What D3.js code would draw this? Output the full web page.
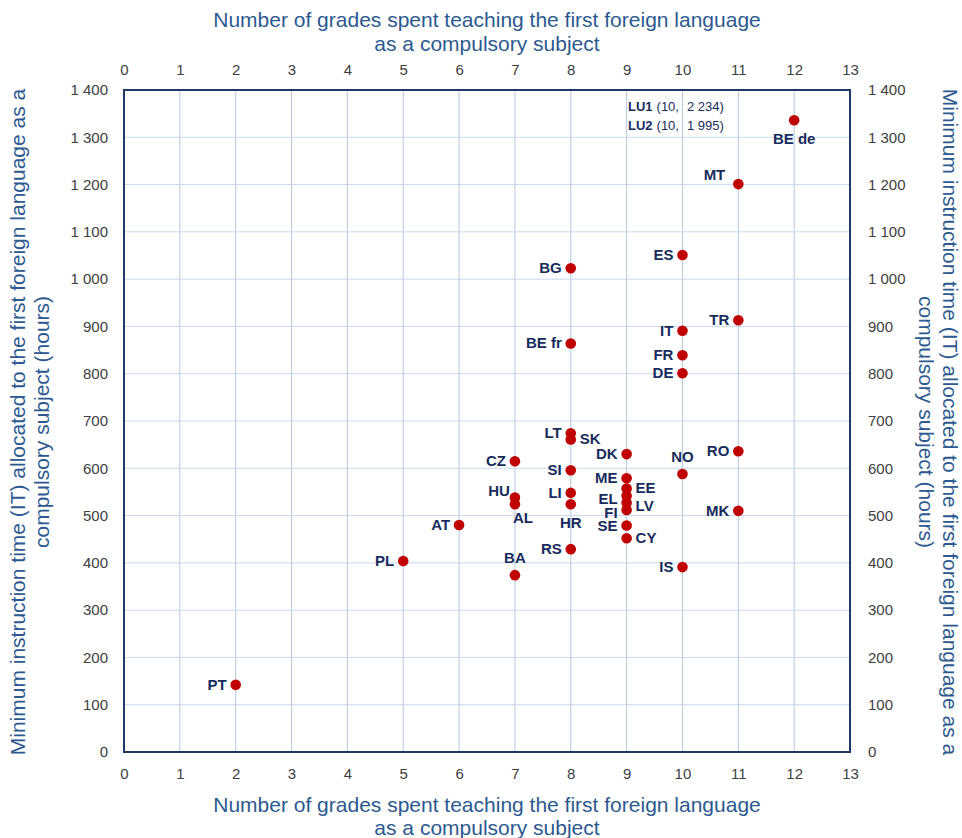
<!DOCTYPE html>
<html><head><meta charset="utf-8">
<script src="https://cdn.jsdelivr.net/npm/d3@7"></script>
<style>
html,body{margin:0;padding:0;background:#fff;}
svg{display:block;font-family:"Liberation Sans",Arial,sans-serif;}
</style></head>
<body>
<svg id="chart" width="962" height="838"></svg>
<script>
// ---- data ----
const codes  = ["PT","PL","AT","BA","CZ","HU","AL","LT","SK","SI","LI","HR","RS","BG","BE fr","DK","ME","EE","EL","LV","FI","SE","CY","NO","IS","ES","IT","FR","DE","MT","TR","RO","MK","BE de"];
const grades = [2,5,6,7,7,7,7,8,8,8,8,8,8,8,8,9,9,9,9,9,9,9,9,10,10,10,10,10,10,11,11,11,11,12];
const hours  = [142,404,480,374,615,538,524,674,661,596,548,524,429,1023,864,630,579,557,542,527,512,479,452,588,391,1051,891,839,801,1201,913,636,510,1336];
const xTicks = [0,1,2,3,4,5,6,7,8,9,10,11,12,13];
const yTicks = [0,100,200,300,400,500,600,700,800,900,1000,1100,1200,1300,1400];
const offChart = [["LU1","(10,","2 234)"],["LU2","(10,","1 995)"]];
const xTitle = ["Number of grades spent teaching the first foreign language","as a compulsory subject"];
const yTitleL = ["Minimum instruction time (IT) allocated to the first foreign language as a","compulsory subject (hours)"];
const yTitleR = ["Minimum instruction time (IT) allocated to the first foreign language as a","compulsory subject (hours)"];
// label placement per point (left default)
const placement = {BA:"above",HU:"aboveleft",AL:"belowright",SK:"right",HR:"below",EE:"right",LV:"right",CY:"right",NO:"above",MT:"aboveleft","BE de":"below"};

// ---- chart ----
const svg = d3.select("#chart");
const x = d3.scaleLinear().domain([0,13]).range([124,850]);
const y = d3.scaleLinear().domain([0,1400]).range([752,90]);
const gridCol = "#b3c7de", frameCol = "#1f3864", tickCol = "#404040", titleCol = "#2c5a8f", labCol = "#172c5c", dotCol = "#c00000";

// grid
svg.append("g").selectAll("line").data(xTicks.slice(1,-1)).join("line")
  .attr("x1",d=>x(d)).attr("x2",d=>x(d)).attr("y1",y(0)).attr("y2",y(1400))
  .attr("stroke",gridCol).attr("stroke-width",1);
svg.append("g").selectAll("line").data(yTicks.slice(1,-1)).join("line")
  .attr("y1",d=>y(d)).attr("y2",d=>y(d)).attr("x1",x(0)).attr("x2",x(13))
  .attr("stroke","#c8d9ee").attr("stroke-width",1);

// axes (labels only)
function styleAxis(g){
  g.select(".domain").remove();
  g.selectAll(".tick line").remove();
  g.selectAll("text").attr("fill",tickCol).style("font-size","15px").style("font-family","'Liberation Sans',Arial,sans-serif");
}
const fmt = d=> d>=1000 ? d3.format(",")(d).replace(","," ") : String(d);
svg.append("g").attr("transform","translate(0,"+y(0)+")")
  .call(d3.axisBottom(x).tickValues(xTicks).tickSize(0).tickPadding(16)).call(styleAxis);
svg.append("g").attr("transform","translate(0,"+y(1400)+")")
  .call(d3.axisTop(x).tickValues(xTicks).tickSize(0).tickPadding(15)).call(styleAxis);
svg.append("g").attr("transform","translate("+x(0)+",0)")
  .call(d3.axisLeft(y).tickValues(yTicks).tickFormat(fmt).tickSize(0).tickPadding(16)).call(styleAxis);
svg.append("g").attr("transform","translate("+x(13)+",0)")
  .call(d3.axisRight(y).tickValues(yTicks).tickFormat(fmt).tickSize(0).tickPadding(18)).call(styleAxis);

// frame
svg.append("rect").attr("x",x(0)).attr("y",y(1400)).attr("width",x(13)-x(0)).attr("height",y(0)-y(1400))
  .attr("fill","none").attr("stroke",frameCol).attr("stroke-width",2);

// titles
const tStyle = s=>s.attr("fill",titleCol).style("font-size","21px").attr("text-anchor","middle");
svg.append("text").call(tStyle).attr("x",487).attr("y",27)
  .selectAll("tspan").data(xTitle).join("tspan").attr("x",487).attr("dy",(d,i)=>i?24:0).text(d=>d);
svg.append("text").call(tStyle).attr("x",487).attr("y",812)
  .selectAll("tspan").data(xTitle).join("tspan").attr("x",487).attr("dy",(d,i)=>i?23:0).text(d=>d);
svg.append("text").call(tStyle).attr("transform","translate(25,422) rotate(-90)")
  .selectAll("tspan").data(yTitleL).join("tspan").attr("x",0).attr("dy",(d,i)=>i?24:0).text(d=>d);
svg.append("text").call(tStyle).attr("transform","translate(943,422) rotate(90)")
  .selectAll("tspan").data(yTitleR).join("tspan").attr("x",0).attr("dy",(d,i)=>i?24:0).text(d=>d);

// points
const pts = codes.map((c,i)=>({c, g:grades[i], h:hours[i]}));
svg.append("g").selectAll("circle").data(pts).join("circle")
  .attr("cx",d=>x(d.g)).attr("cy",d=>y(d.h)).attr("r",5.3).attr("fill",dotCol);

// labels
svg.append("g").selectAll("text").data(pts).join("text")
  .attr("fill",labCol).style("font-size","15px").style("font-weight","bold")
  .each(function(d){
    const p = placement[d.c]||"left", cx=x(d.g), cy=y(d.h), t=d3.select(this);
    let tx=cx, ty=cy+5, a="end";
    if(p==="left"){tx=cx-9;}
    else if(p==="right"){tx=cx+9;a="start";}
    else if(p==="above"){a="middle";ty=cy-12;}
    else if(p==="below"){a="middle";ty=cy+24;}
    else if(p==="aboveleft"){tx=cx-12;ty=cy-2;}
    else if(p==="belowright"){tx=cx+7;ty=cy+19;a="middle";}
    if(d.c==="HU"){tx=cx-5;ty=cy-2;}
    if(d.c==="MT"){tx=cx-13;ty=cy-4;}
    if(d.c==="AL"){tx=cx+8;ty=cy+19;}
    if(d.c==="HR"){ty=cy+24;}
    if(d.c==="LV"||d.c==="EL"||d.c==="FI"){ty=cy+8;}
    if(d.c==="EE"){ty=cy+4;}
    t.attr("x",tx).attr("y",ty).attr("text-anchor",a).text(d.c);
  });

// off-chart annotation
const ann = svg.append("g").attr("fill",labCol).style("font-size","13px");
offChart.forEach((r,i)=>{
  const t = ann.append("text").attr("x",628).attr("y",111+i*19);
  t.append("tspan").style("font-weight","bold").text(r[0]);
  t.append("tspan").attr("dx",4).text(r[1]);
  ann.append("text").attr("x",687).attr("y",111+i*19).text(r[2]);
});
</script>
</body></html>
